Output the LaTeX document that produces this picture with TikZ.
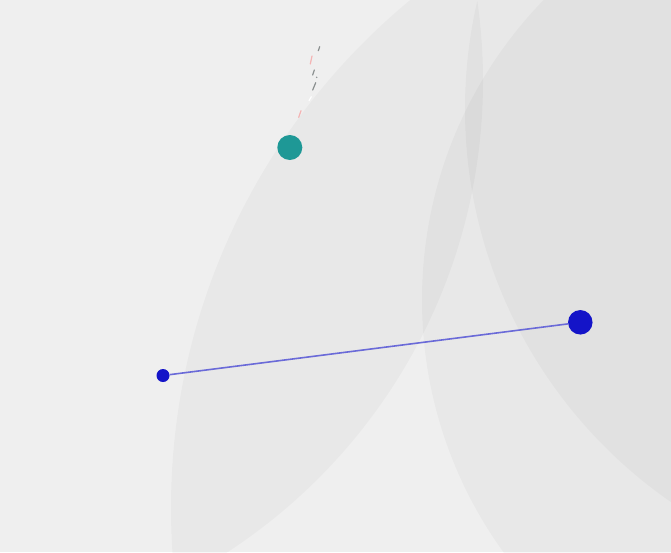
\documentclass[tikz,border=0pt]{standalone}
\begin{document}
\begin{tikzpicture}[x=1pt,y=-1pt,
  shade/.style={fill=black,fill opacity=0.028,draw=none},
  dot/.style={circle,inner sep=0pt,draw=none},
  link/.style={draw=linkblue,line width=1.6pt},
  tick/.style={line width=1.2pt,line cap=round}]
\definecolor{bgcol}{HTML}{EFEFEF}
\definecolor{tealc}{HTML}{1E9896}
\definecolor{bluec}{HTML}{1414C8}
\definecolor{linkblue}{HTML}{6A6AD8}
\definecolor{tickgray}{HTML}{8A8F8F}
\definecolor{tickpink}{HTML}{F4B4B4}
\useasboundingbox (0,0) rectangle (671,552);
\fill[bgcol] (0,0) rectangle (671,552);
\begin{scope}
\clip (0,0) rectangle (671,552);
% shape A: lens of two circles
\begin{scope}
\clip (830,508) circle (659pt);
\fill[shade] (-79,81) circle (562pt);
\end{scope}
% shape B
\fill[shade] (943,109) circle (478pt);
% shape C
\fill[shade] (853,300) circle (431pt);
\end{scope}
% small ticks
\draw[tick,tickgray] (318.3,50.7) -- (319.7,46.7);
\draw[tick,tickpink] (310.3,64) -- (312,56);
\draw[tick,tickgray] (312.7,75) -- (314.3,70);
\fill[tickgray] (316.7,77.3) circle (0.8pt);
\draw[tick,tickgray] (312.7,90) -- (315.7,82.7);
\draw[tick,white] (309,100.7) -- (311.3,96.7);
\draw[tick,tickpink] (298.7,117.3) -- (301,110.7);
% nodes
\node[dot,fill=tealc,minimum size=25pt] (t) at (289.8,147.5) {};
\node[dot,fill=bluec,minimum size=13pt] (a) at (163,375.5) {};
\node[dot,fill=bluec,minimum size=24.5pt] (b) at (580.3,322.3) {};
\draw[link] (a) -- (b);
\end{tikzpicture}
\end{document}
